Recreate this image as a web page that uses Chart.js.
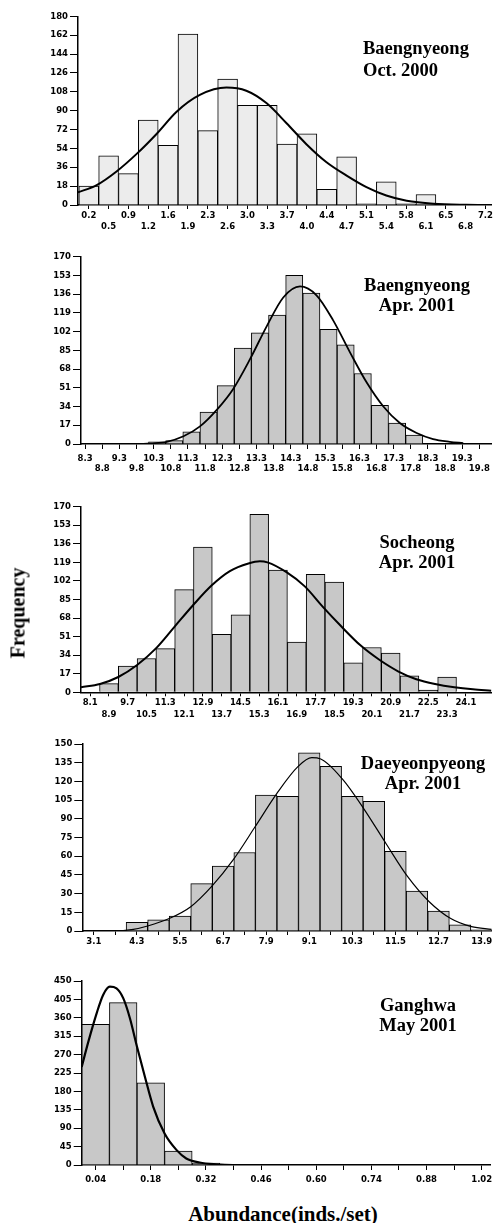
<!DOCTYPE html>
<html><head><meta charset="utf-8">
<script src="https://cdn.jsdelivr.net/npm/chart.js@4.4.1/dist/chart.umd.min.js"></script>
<style>
html,body{margin:0;padding:0;background:#fff;}
body{width:497px;height:1223px;position:relative;overflow:hidden;}
canvas{position:absolute;left:0;}
.ttl{position:absolute;font-family:"Liberation Serif","Times New Roman",serif;font-weight:bold;font-size:18.5px;color:#000;white-space:nowrap;}
.ctr{text-align:center;width:170px;}
#ylab{position:absolute;left:18px;top:613px;transform:translate(-50%,-50%) rotate(-90deg);font-family:"Liberation Serif",serif;font-weight:bold;font-size:20px;white-space:nowrap;}
#xlab{position:absolute;left:283px;top:1214px;transform:translate(-50%,-50%);font-family:"Liberation Serif",serif;font-weight:bold;font-size:21px;white-space:nowrap;}
</style></head><body>
<canvas id="c1" width="497" height="240" style="top:0px"></canvas>
<canvas id="c2" width="497" height="240" style="top:240px"></canvas>
<canvas id="c3" width="497" height="240" style="top:480px"></canvas>
<canvas id="c4" width="497" height="240" style="top:720px"></canvas>
<canvas id="c5" width="497" height="230" style="top:960px"></canvas>

<div class="ttl" style="left:363px;top:37px;line-height:22px;">Baengnyeong<br>Oct. 2000</div>
<div class="ttl ctr" style="left:332px;top:275px;line-height:20px;">Baengnyeong<br>Apr. 2001</div>
<div class="ttl ctr" style="left:332px;top:532px;line-height:20px;">Socheong<br>Apr. 2001</div>
<div class="ttl ctr" style="left:338px;top:753px;line-height:20px;">Daeyeonpyeong<br>Apr. 2001</div>
<div class="ttl ctr" style="left:333px;top:995px;line-height:20px;">Ganghwa<br>May 2001</div>
<div id="ylab">Frequency</div>
<div id="xlab">Abundance(inds./set)</div>

<script>
// ---------- Panel 1: Baengnyeong Oct. 2000 ----------
const p1BinCenters = [0.2,0.55,0.9,1.25,1.6,1.95,2.3,2.65,3.0,3.35,3.7,4.05,4.4,4.75,5.1,5.45,5.8,6.15];
const p1Counts     = [18,47,30,81,57,163,71,120,95,95,58,68,15,46,1,22,1,10];
const p1XTicks     = [0.2,0.55,0.9,1.25,1.6,1.95,2.3,2.65,3.0,3.35,3.7,4.05,4.4,4.75,5.1,5.45,5.8,6.15,6.5,6.85,7.2];
const p1XLabels    = ['0.2','0.5','0.9','1.2','1.6','1.9','2.3','2.6','3.0','3.3','3.7','4.0','4.4','4.7','5.1','5.4','5.8','6.1','6.5','6.8','7.2'];
const p1YTicks     = [0,18,36,54,72,90,108,126,144,162,180];
const p1CurveX     = [0.01,0.34,0.69,1.05,1.40,1.75,2.16,2.63,2.98,3.34,3.69,4.04,4.39,4.75,5.10,5.45,5.81,6.28,6.86,7.31];
const p1CurveY     = [12,19,32,49,68,89,105,112,109,97,78,58,41,28,17,9,4,1.2,0.2,0];

// ---------- Panel 2: Baengnyeong Apr. 2001 ----------
const p2BinCenters = [10.4,10.9,11.4,11.9,12.4,12.9,13.4,13.9,14.4,14.9,15.4,15.9,16.4,16.9,17.4,17.9];
const p2Counts     = [2,3,11,29,53,87,101,117,153,137,104,90,64,35,19,8];
const p2XTicks     = [8.3,8.8,9.3,9.8,10.3,10.8,11.3,11.8,12.3,12.8,13.3,13.8,14.3,14.8,15.3,15.8,16.3,16.8,17.3,17.8,18.3,18.8,19.3,19.8];
const p2XLabels    = ['8.3','8.8','9.3','9.8','10.3','10.8','11.3','11.8','12.3','12.8','13.3','13.8','14.3','14.8','15.3','15.8','16.3','16.8','17.3','17.8','18.3','18.8','19.3','19.8'];
const p2YTicks     = [0,17,34,51,68,85,102,119,136,153,170];
const p2CurveX     = [9.9,10.20,10.68,11.17,11.65,12.14,12.62,13.11,13.60,14.08,14.57,15.05,15.54,16.03,16.51,17.0,17.48,17.97,18.45,18.94,19.33];
const p2CurveY     = [0,0.6,2,7,16,31,50,77,107,133,143,135,112,83,56,34,19,10,4.5,2,0.8];

// ---------- Panel 3: Socheong Apr. 2001 ----------
const p3BinCenters = [8.9,9.7,10.5,11.3,12.1,12.9,13.7,14.5,15.3,16.1,16.9,17.7,18.5,19.3,20.1,20.9,21.7,22.5,23.3];
const p3Counts     = [8,24,31,40,94,133,53,71,163,112,46,108,101,27,41,36,15,2,14];
const p3XTicks     = [8.1,8.9,9.7,10.5,11.3,12.1,12.9,13.7,14.5,15.3,16.1,16.9,17.7,18.5,19.3,20.1,20.9,21.7,22.5,23.3,24.1];
const p3XLabels    = ['8.1','8.9','9.7','10.5','11.3','12.1','12.9','13.7','14.5','15.3','16.1','16.9','17.7','18.5','19.3','20.1','20.9','21.7','22.5','23.3','24.1'];
const p3YTicks     = [0,17,34,51,68,85,102,119,136,153,170];
const p3CurveX     = [7.71,8.52,9.30,10.10,10.89,11.69,12.49,13.28,14.05,14.84,15.33,15.65,16.46,17.24,18.02,18.81,19.61,20.40,21.23,21.99,22.79,23.61,24.40,25.18];
const p3CurveY     = [4.6,7.6,14,25,40,60,80,98,111,118,120,119,110,97,78,60,43,30,19,12,7.6,4.6,2.7,1.5];

// ---------- Panel 4: Daeyeonpyeong Apr. 2001 ----------
const p4BinCenters = [4.3,4.9,5.5,6.1,6.7,7.3,7.9,8.5,9.1,9.7,10.3,10.9,11.5,12.1,12.7,13.3,13.9];
const p4Counts     = [7,9,12,38,52,63,109,108,143,132,108,104,64,32,16,5,1];
const p4XTicks     = [3.1,3.7,4.3,4.9,5.5,6.1,6.7,7.3,7.9,8.5,9.1,9.7,10.3,10.9,11.5,12.1,12.7,13.3,13.9];
const p4XLabels    = ['3.1','','4.3','','5.5','','6.7','','7.9','','9.1','','10.3','','11.5','','12.7','','13.9'];
const p4YTicks     = [0,15,30,45,60,75,90,105,120,135,150];
const p4CurveX     = [2.78,3.64,4.20,4.60,5.20,5.80,6.39,6.98,7.60,8.19,8.79,9.17,9.42,10.02,10.62,11.24,11.83,12.44,13.04,13.62,14.18];
const p4CurveY     = [0,0,1.3,4,10,19.5,36,57,84,110,132,139,138,122,98,70,44,23.5,10,3.5,1.3];

// ---------- Panel 5: Ganghwa May 2001 ----------
const p5BinCenters = [0.04,0.11,0.18,0.25,0.32];
const p5Counts     = [344,397,201,34,5];
const p5XTicks     = [0.04,0.11,0.18,0.25,0.32,0.39,0.46,0.53,0.60,0.67,0.74,0.81,0.88,0.95,1.02];
const p5XLabels    = ['0.04','','0.18','','0.32','','0.46','','0.60','','0.74','','0.88','','1.02'];
const p5YTicks     = [0,45,90,135,180,225,270,315,360,405,450];
const p5CurveX     = [0.0046,0.021,0.0425,0.059,0.076,0.093,0.110,0.127,0.145,0.165,0.186,0.215,0.245,0.270,0.304,0.346,0.388,1.042];
const p5CurveY     = [240,300,371,416,436,432,408,359,289,216,143,77,37,16,6,1.6,0,0];

const TICK_FONT = {family:'DejaVu Sans', size:8.5, weight:'bold'};

function panel(id, o) {
  const ctx = document.getElementById(id).getContext('2d');
  return new Chart(ctx, {
    type: 'bar',
    data: { datasets: [
      { type:'line', data:o.cx.map((x,i)=>({x:x,y:o.cy[i]})), borderColor:'#000', borderWidth:o.lw,
        pointRadius:0, cubicInterpolationMode:'monotone', fill:false, order:0 },
      { type:'bar', data:o.bx.map((x,i)=>({x:x,y:o.by[i]})), backgroundColor:o.fill, borderColor:'#000',
        borderWidth:1, barPercentage:1, categoryPercentage:1, order:1 }
    ]},
    options: {
      responsive:false, animation:false, devicePixelRatio:1,
      layout:{padding:{top:o.top, right:o.right, left:0, bottom:0}},
      plugins:{legend:{display:false}, tooltip:{enabled:false}, title:{display:false}},
      scales:{
        x:{ type:'linear', position:'bottom', min:o.xmin, max:o.xmax, offset:false,
          grid:{display:true, drawOnChartArea:false, drawTicks:true, tickLength:o.tl, color:'#000', lineWidth:1, offset:false},
          border:{display:true, color:'#000', width:1.5},
          afterBuildTicks:(s)=>{ s.ticks = o.xt.map(v=>({value:v})); },
          afterFit:(s)=>{ s.height = o.xh; },
          ticks:{ autoSkip:false, maxRotation:0, minRotation:0, padding:o.tp, color:'#000',
            font:Object.assign({}, TICK_FONT, {lineHeight:o.lh}),
            callback:(v,i)=>{ const l = o.xl[i]; if(!l) return ''; return (o.two && i%2===1) ? ['', l] : l; } }
        },
        y:{ type:'linear', position:'left', min:0, max:o.yt[o.yt.length-1],
          grid:{display:true, drawOnChartArea:false, drawTicks:true, tickLength:8, color:'#000', lineWidth:1},
          border:{display:true, color:'#000', width:1.5},
          afterBuildTicks:(s)=>{ s.ticks = o.yt.map(v=>({value:v})); },
          afterFit:(s)=>{ s.width = o.left; },
          ticks:{ padding:2, color:'#000', font:TICK_FONT, callback:(v)=>String(v) }
        }
      }
    }
  });
}

const LIGHT = '#ececec', DARK = '#c8c8c8';
panel('c1', {bx:p1BinCenters, by:p1Counts, cx:p1CurveX, cy:p1CurveY, xt:p1XTicks, xl:p1XLabels, yt:p1YTicks,
  xmin:0.01, xmax:7.31, left:78, right:5.3, top:16.3, xh:240-205, tl:4, tp:1.6, lh:1.26, two:true, lw:2, fill:LIGHT});
panel('c2', {bx:p2BinCenters, by:p2Counts, cx:p2CurveX, cy:p2CurveY, xt:p2XTicks, xl:p2XLabels, yt:p2YTicks,
  xmin:8.18, xmax:20.16, left:81, right:5.3, top:16.7, xh:240-204, tl:5, tp:4.5, lh:1.18, two:true, lw:1.8, fill:DARK});
panel('c3', {bx:p3BinCenters, by:p3Counts, cx:p3CurveX, cy:p3CurveY, xt:p3XTicks, xl:p3XLabels, yt:p3YTicks,
  xmin:7.71, xmax:25.2, left:81, right:5.3, top:26.7, xh:240-212.3, tl:4, tp:1.1, lh:1.38, two:true, lw:2, fill:DARK});
panel('c4', {bx:p4BinCenters, by:p4Counts, cx:p4CurveX, cy:p4CurveY, xt:p4XTicks, xl:p4XLabels, yt:p4YTicks,
  xmin:2.78, xmax:14.18, left:82.3, right:5.3, top:24, xh:240-211, tl:4, tp:1.4, lh:1.25, two:false, lw:1.2, fill:DARK});
panel('c5', {bx:p5BinCenters, by:p5Counts, cx:p5CurveX, cy:p5CurveY, xt:p5XTicks, xl:p5XLabels, yt:p5YTicks,
  xmin:0.0046, xmax:1.042, left:81.7, right:5.3, top:21, xh:230-205, tl:5, tp:4.7, lh:1.25, two:false, lw:2.2, fill:DARK});
</script>
</body></html>
